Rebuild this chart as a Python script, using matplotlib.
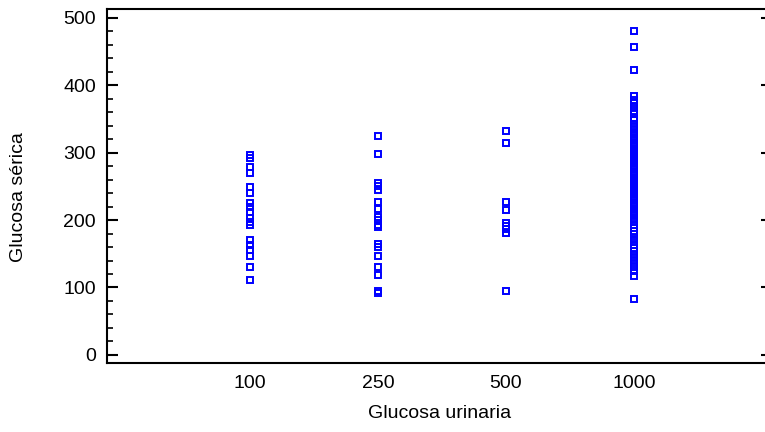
import matplotlib.pyplot as plt
from matplotlib.ticker import MultipleLocator

plt.rcParams['font.family'] = ['Liberation Sans', 'DejaVu Sans']

# glucosa urinaria categories and glucosa serica values
categories = ['100', '250', '500', '1000']
g100 = [297, 292, 278, 270, 249, 240, 226, 219, 212, 203, 197, 193,
        170, 163, 155, 147, 130, 111]
g250 = [325, 298, 255, 251, 244, 227, 217, 205, 200, 193, 189,
        165, 160, 146, 131, 119, 95, 92]
g500 = [332, 314, 227, 215, 195, 191, 187, 181, 95]
g1000 = [480, 457, 422, 384, 378, 373, 367, 362, 357, 352, 348, 343,
         338, 335, 331, 328, 325, 322, 318, 315, 312, 309, 306, 302,
         299, 296, 293, 290, 287, 284, 281, 278, 275, 272, 268, 265,
         262, 259, 256, 253, 250, 247, 244, 241, 238, 235, 232, 229,
         226, 223, 220, 217, 213, 210, 207, 203, 200, 197, 192, 188,
         184, 180, 174, 170, 167, 163, 158, 154, 148, 144, 141, 136,
         131, 125, 117, 83]

fig = plt.figure(figsize=(7.65, 4.32), dpi=100)
ax = fig.add_axes([107 / 765, 69 / 432, 665 / 765, 354 / 432])

for cat, vals in zip(categories, [g100, g250, g500, g1000]):
    ax.plot([cat] * len(vals), vals, linestyle='none', marker='s',
            markersize=4.5, markerfacecolor='none', markeredgecolor='#0000ff',
            markeredgewidth=1.4)

ax.set_xlim(-1.12, 4.08)
ax.set_ylim(-12, 513)
ax.yaxis.set_major_locator(MultipleLocator(100))
ax.yaxis.set_minor_locator(MultipleLocator(20))

for s in ax.spines.values():
    s.set_linewidth(1.5)

ax.tick_params(axis='y', which='both', direction='in', left=True,
               labelsize=14, pad=8)
ax.tick_params(axis='y', which='major', length=8, width=1.5, right=True)
ax.tick_params(axis='y', which='minor', length=4.5, width=1.2, right=False)
ax.tick_params(axis='x', length=0, labelsize=14, pad=9)

ax.set_xlabel('Glucosa urinaria', fontsize=14, labelpad=9)
ax.set_ylabel('Glucosa sérica', fontsize=14)
ax.yaxis.set_label_coords(-0.12, 0.47)

fig.savefig('out.png', dpi=100)
